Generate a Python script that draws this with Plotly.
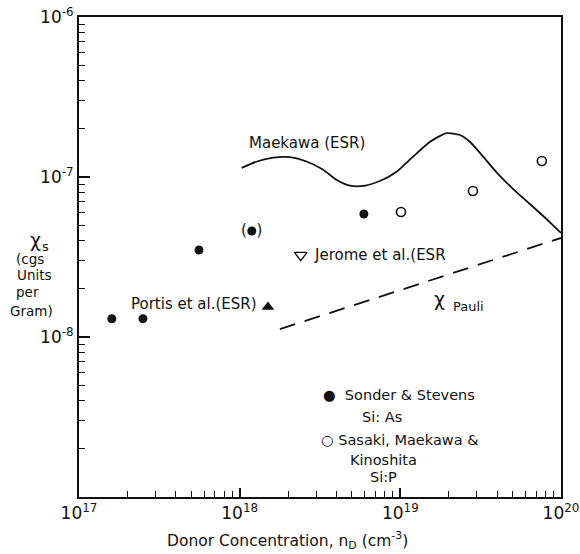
import plotly.graph_objects as go
import numpy as np

# ---- data ----
sonder_x = [1.60e17, 2.50e17, 5.58e17, 1.19e18, 5.93e18]
sonder_y = [1.30e-8, 1.30e-8, 3.50e-8, 4.60e-8, 5.87e-8]

sasaki_x = [1.01e19, 2.83e19, 7.60e19]
sasaki_y = [6.04e-8, 8.18e-8, 1.26e-7]

portis_x = [1.50e18]
portis_y = [1.54e-8]

jerome_x = [2.40e18]
jerome_y = [3.25e-8]

maekawa_x = [1.03e18, 1.28e18, 1.62e18, 2.06e18, 2.61e18, 3.31e18, 4.02e18, 4.86e18,
             5.87e18, 7.46e18, 9.48e18, 1.20e19, 1.53e19, 1.94e19, 2.35e19, 2.71e19,
             3.28e19, 3.97e19, 5.04e19, 6.40e19, 8.13e19, 1.0e20]
maekawa_y = [1.14e-7, 1.25e-7, 1.32e-7, 1.33e-7, 1.25e-7, 1.11e-7, 9.58e-8, 8.83e-8,
             8.79e-8, 9.44e-8, 1.08e-7, 1.34e-7, 1.66e-7, 1.88e-7, 1.83e-7, 1.66e-7,
             1.34e-7, 1.07e-7, 8.41e-8, 6.78e-8, 5.46e-8, 4.47e-8]

pauli_x = [1.78e18, 1.0e20]
pauli_y = [1.12e-8, 4.16e-8]

x_tickvals = [1e17, 1e18, 1e19, 1e20]
x_ticktext = ["10<sup>17</sup>", "10<sup>18</sup>", "10<sup>19</sup>", "10<sup>20</sup>"]
y_tickvals = [1e-9, 1e-8, 1e-7, 1e-6]
y_ticktext = ["", "10<sup>-8</sup>", "10<sup>-7</sup>", "10<sup>-6</sup>"]

FONT = "DejaVu Sans"
BLACK = "#111111"

fig = go.Figure()
fig.add_trace(go.Scatter(x=maekawa_x, y=maekawa_y, mode="lines",
                         line=dict(color=BLACK, width=1.8, shape="spline", smoothing=0.6)))
fig.add_trace(go.Scatter(x=pauli_x, y=pauli_y, mode="lines",
                         line=dict(color=BLACK, width=1.8, dash="16px,10px")))
fig.add_trace(go.Scatter(x=sonder_x, y=sonder_y, mode="markers",
                         marker=dict(symbol="circle", size=9, color=BLACK)))
fig.add_trace(go.Scatter(x=sasaki_x, y=sasaki_y, mode="markers",
                         marker=dict(symbol="circle-open", size=9, color=BLACK, line=dict(width=1.6))))
fig.add_trace(go.Scatter(x=portis_x, y=portis_y, mode="markers",
                         marker=dict(symbol="triangle-up", size=11, color=BLACK)))
fig.add_trace(go.Scatter(x=jerome_x, y=jerome_y, mode="markers",
                         marker=dict(symbol="triangle-down-open", size=11, color=BLACK, line=dict(width=1.4))))

L, R, T, B = 79, 19, 17, 57
W, H = 580, 554
PW, PH = W - L - R, H - T - B


def px(x, y):
    return (x - L) / PW, (H - B - y) / PH


def note(text, x, y, size=14, xanchor="center"):
    xx, yy = px(x, y)
    fig.add_annotation(text=text, x=xx, y=yy, xref="paper", yref="paper",
                       showarrow=False, xanchor=xanchor, yanchor="middle",
                       font=dict(family=FONT, size=size, color=BLACK))


# parentheses around the questionable point
fig.add_annotation(text="(&nbsp;&nbsp;)", x=np.log10(sonder_x[3]), y=np.log10(sonder_y[3]),
                   showarrow=False, font=dict(family=FONT, size=15, color=BLACK), yshift=1)

note("Maekawa (ESR)", 307, 143, size=15)
note("Jerome et al.(ESR", 312, 255, size=15, xanchor="left")
note("χ", 439, 299, size=19)
note("Pauli", 451, 306, size=13, xanchor="left")
note("Portis et al.(ESR)", 259, 304, size=15, xanchor="right")
note("●  Sonder & Stevens", 399, 395, size=14.5)
note("Si: As", 382, 417, size=14.5)
note("○ Sasaki, Maekawa &", 399, 440, size=14.5)
note("Kinoshita", 383, 460, size=14.5)
note("Si:P", 383, 477, size=14.5)

note("χ", 35, 240, size=19)
note("s", 45, 247, size=13)
note("(cgs", 30, 259, size=13.5)
note("Units", 34, 275, size=13.5)
note("per", 27, 292, size=13.5)
note("Gram)", 31, 311, size=13.5)

note("Donor Concentration, n<sub>D</sub> (cm<sup>-3</sup>)", 287, 540, size=15.5)

axis_common = dict(type="log", showline=True, linecolor=BLACK, linewidth=2, mirror=True,
                   ticks="inside", tickcolor=BLACK, tickwidth=1.5, showgrid=False, zeroline=False,
                   automargin=False,
                   tickfont=dict(family=FONT, size=17, color=BLACK))

minor_x = [m * 10.0 ** e for e in (17, 18, 19) for m in range(2, 10)]
minor_y = [m * 10.0 ** e for e in (-9, -8, -7) for m in range(2, 10)]

fig.update_xaxes(range=[17, 20], tickvals=x_tickvals, ticktext=x_ticktext, ticklen=9,
                 minor=dict(tickvals=minor_x, ticks="inside", ticklen=6, tickcolor=BLACK, tickwidth=1.3),
                 **axis_common)
fig.update_yaxes(range=[-9, -6], tickvals=y_tickvals, ticktext=y_ticktext, ticklen=11,
                 minor=dict(tickvals=minor_y, ticks="inside", ticklen=6, tickcolor=BLACK, tickwidth=1.3),
                 **axis_common)

fig.update_layout(width=W, height=H, margin=dict(l=L, r=R, t=T, b=B),
                  plot_bgcolor="white", paper_bgcolor="white", showlegend=False)

fig.write_html("out.html")
